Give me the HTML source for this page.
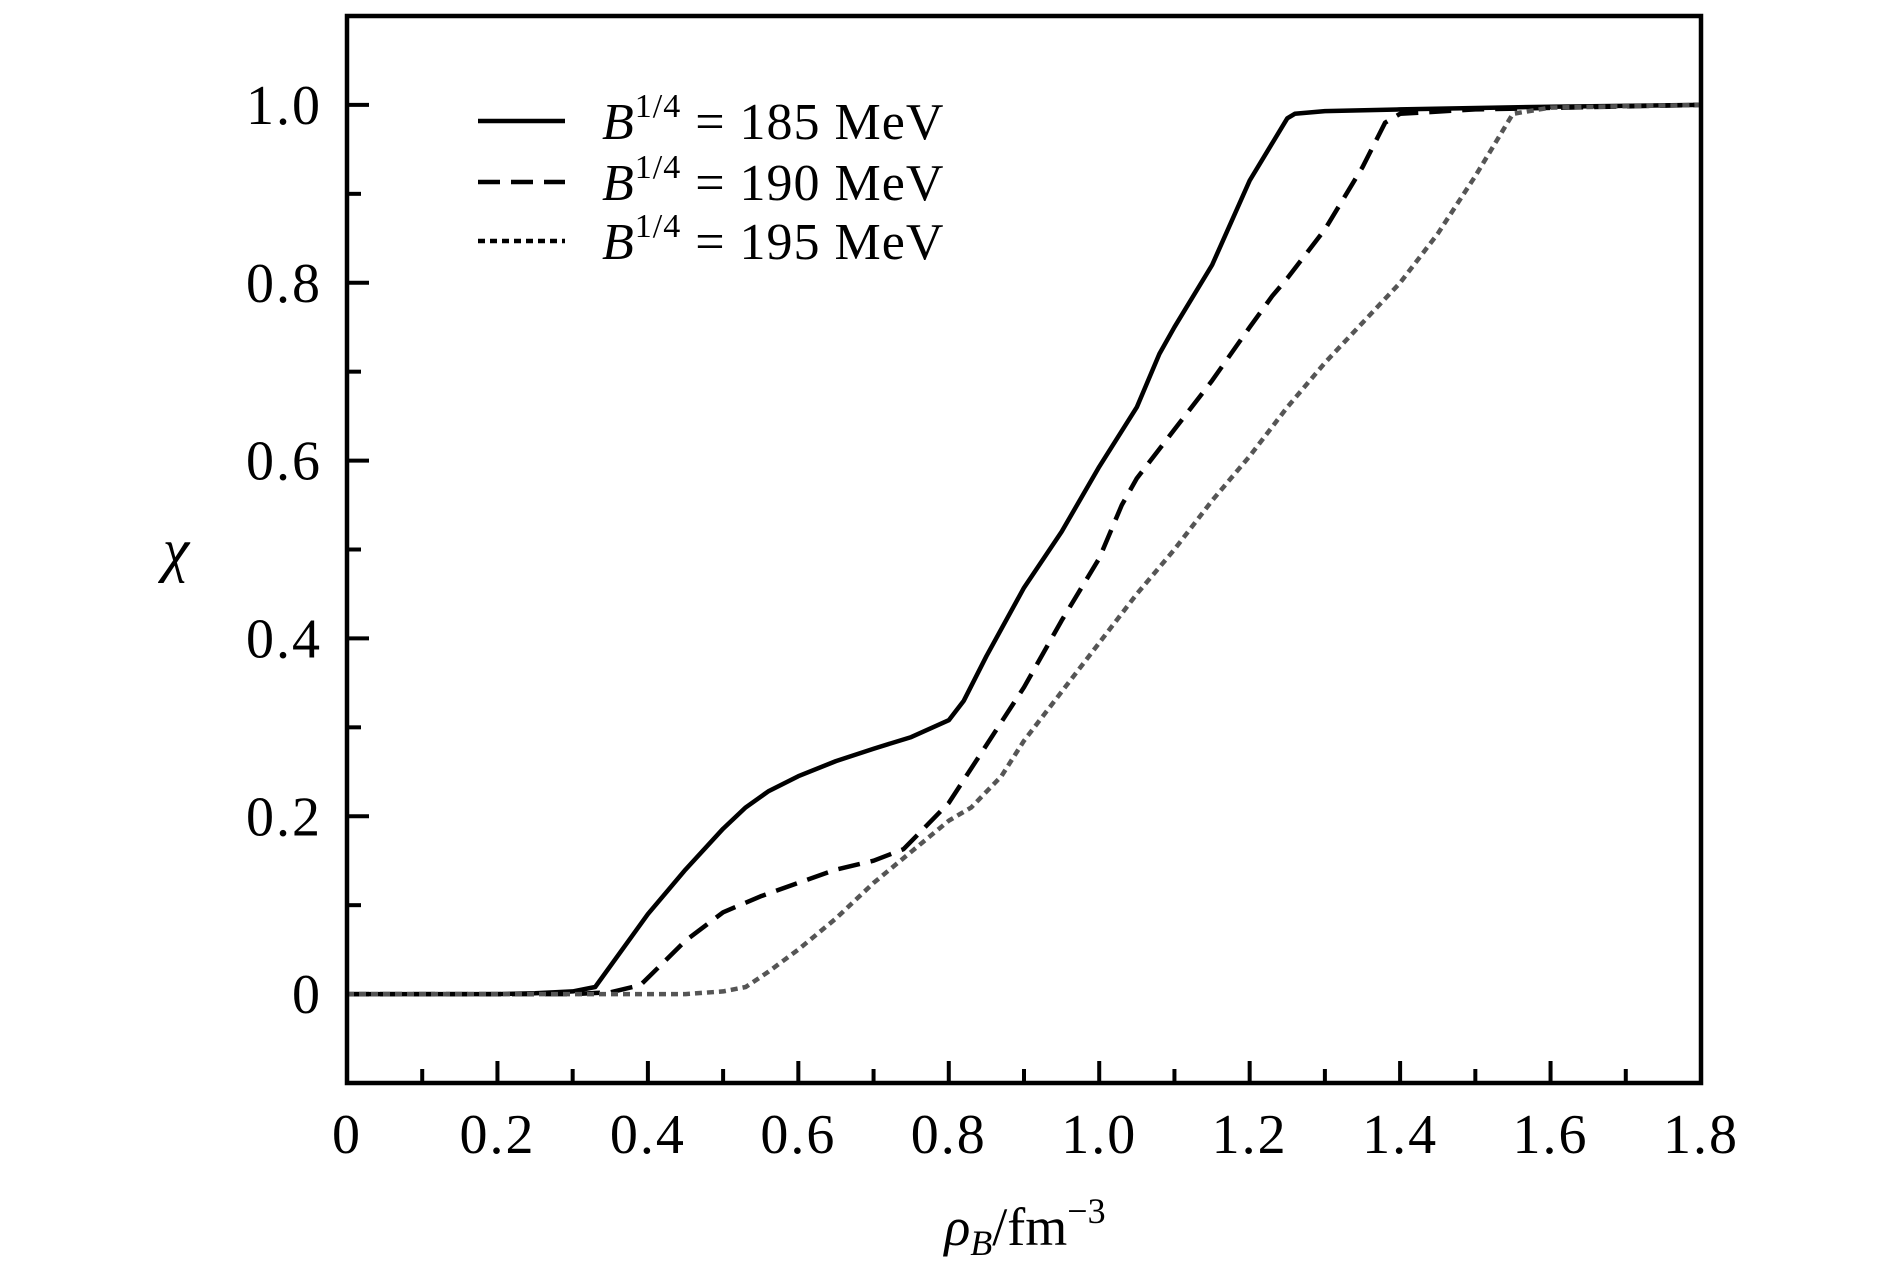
<!DOCTYPE html>
<html><head><meta charset="utf-8"><style>
html,body{margin:0;padding:0;background:#fff;}
svg{display:block;font-family:"Liberation Serif",serif;}
</style></head><body>
<svg id="chart" width="1890" height="1276" viewBox="0 0 1890 1276" xmlns="http://www.w3.org/2000/svg">
<g id="plot"></g>
</svg>
<script>
const xTickValues = [0, 0.2, 0.4, 0.6, 0.8, 1.0, 1.2, 1.4, 1.6, 1.8];
const xTickLabels = ["0", "0.2", "0.4", "0.6", "0.8", "1.0", "1.2", "1.4", "1.6", "1.8"];
const yTickValues = [0, 0.2, 0.4, 0.6, 0.8, 1.0];
const yTickLabels = ["0", "0.2", "0.4", "0.6", "0.8", "1.0"];
const seriesNames = ["B185", "B190", "B195"];
const x185 = [0, 0.1, 0.2, 0.25, 0.3, 0.33, 0.4, 0.45, 0.5, 0.53, 0.56, 0.6, 0.65, 0.7, 0.75, 0.8, 0.82, 0.85, 0.9, 0.95, 1.0, 1.05, 1.08, 1.1, 1.15, 1.2, 1.25, 1.26, 1.3, 1.4, 1.6, 1.8];
const y185 = [0, 0, 0, 0.001, 0.003, 0.008, 0.09, 0.14, 0.186, 0.21, 0.228, 0.245, 0.262, 0.276, 0.289, 0.308, 0.33, 0.38, 0.457, 0.52, 0.593, 0.66, 0.72, 0.75, 0.82, 0.915, 0.985, 0.99, 0.993, 0.995, 0.998, 1.0];
const x190 = [0, 0.1, 0.2, 0.3, 0.35, 0.39, 0.45, 0.5, 0.55, 0.6, 0.65, 0.7, 0.74, 0.8, 0.85, 0.9, 0.95, 1.0, 1.03, 1.05, 1.1, 1.15, 1.2, 1.23, 1.25, 1.3, 1.35, 1.38, 1.4, 1.5, 1.8];
const y190 = [0, 0, 0, 0, 0.002, 0.01, 0.06, 0.092, 0.11, 0.125, 0.14, 0.15, 0.163, 0.215, 0.28, 0.345, 0.42, 0.49, 0.55, 0.58, 0.635, 0.69, 0.75, 0.785, 0.805, 0.86, 0.93, 0.98, 0.99, 0.995, 1.0];
const x195 = [0, 0.1, 0.2, 0.3, 0.45, 0.5, 0.53, 0.56, 0.6, 0.65, 0.7, 0.75, 0.8, 0.83, 0.87, 0.9, 0.95, 1.0, 1.05, 1.1, 1.15, 1.2, 1.25, 1.3, 1.35, 1.4, 1.45, 1.5, 1.55, 1.6, 1.8];
const y195 = [0, 0, 0, 0, 0, 0.003, 0.008, 0.025, 0.05, 0.085, 0.125, 0.16, 0.195, 0.21, 0.245, 0.285, 0.34, 0.395, 0.45, 0.5, 0.555, 0.605, 0.66, 0.71, 0.755, 0.8, 0.855, 0.92, 0.99, 0.997, 1.0];
const legendLabels = ["185", "190", "195"];

const NS = "http://www.w3.org/2000/svg";
const L = 347, R = 1701, T = 16, B = 1083;
const X0 = 0, X1 = 1.8, Y0 = -0.1, Y1 = 1.1;
function sx(v){ return L + (v - X0) / (X1 - X0) * (R - L); }
function sy(v){ return B - (v - Y0) / (Y1 - Y0) * (B - T); }
const g = document.getElementById('plot');
function mk(tag, attrs){ const e = document.createElementNS(NS, tag); for (const k in attrs) e.setAttribute(k, attrs[k]); g.appendChild(e); return e; }

for (let i = 1; i < 18; i++) {
  const v = i / 10, x = sx(v);
  const major = i % 2 === 0;
  const t = mk('line', {x1:x, y1:B, x2:x, y2:B - (major ? 22 : 14), stroke:'#000', 'stroke-width':4});
  
  
}
for (let i = 0; i <= 10; i++) {
  const v = i / 10, y = sy(v);
  const major = i % 2 === 0;
  const t = mk('line', {x1:L, y1:y, x2:L + (major ? 22 : 14), y2:y, stroke:'#000', 'stroke-width':4});
  
  
}
xTickValues.forEach((v, i) => {
  const t = mk('text', {x:sx(v), y:1153, 'font-size':56, 'text-anchor':'middle', fill:'#000', 'letter-spacing':2});
  t.textContent = xTickLabels[i];
  
  
});
yTickValues.forEach((v, i) => {
  const t = mk('text', {x:322, y:sy(v) + 19, 'font-size':56, 'text-anchor':'end', fill:'#000', 'letter-spacing':2});
  t.textContent = yTickLabels[i];
  
  
});

const styles = [
  {stroke:'#000', dash:'none'},
  {stroke:'#000', dash:'22 11'},
  {stroke:'#555', dash:'7 5'}
];
const xs = [x185, x190, x195], ys = [y185, y190, y195];
xs.forEach((xa, s) => {
  const d = xa.map((v, i) => (i ? 'L' : 'M') + sx(v).toFixed(1) + ',' + sy(ys[s][i]).toFixed(1)).join(' ');
  const p = mk('path', {d:d, fill:'none', stroke:styles[s].stroke, 'stroke-width':4.5, 'stroke-dasharray':styles[s].dash, 'stroke-linejoin':'round'});
  
  
});

const fr = mk('rect', {x:L, y:T, width:R - L, height:B - T, fill:'none', stroke:'#000', 'stroke-width':4.5});



const legY = [121, 182, 241];
const legDash = ['none', '22 11', '7 5'];
legendLabels.forEach((lab, i) => {
  const ln = mk('line', {x1:478, y1:legY[i], x2:565, y2:legY[i], stroke:'#000', 'stroke-width':4.5, 'stroke-dasharray':legDash[i]});
  
  
  const t = mk('text', {x:602, y:legY[i] + 18, 'font-size':52, fill:'#000', 'letter-spacing':1});
  t.innerHTML = '<tspan font-style="italic">B</tspan><tspan font-size="34" dy="-22">1/4</tspan><tspan dy="22"> = ' + lab + ' MeV</tspan>';
  
  
});

const xt = mk('text', {x:1025, y:1245, 'font-size':54, 'text-anchor':'middle', fill:'#000'});
xt.innerHTML = '<tspan font-style="italic">ρ</tspan><tspan font-style="italic" font-size="36" dy="10">B</tspan><tspan dy="-10">/fm</tspan><tspan font-size="36" dy="-22">−3</tspan>';


const yt = mk('text', {x:176, y:570, 'font-size':60, 'text-anchor':'middle', 'font-style':'italic', fill:'#000'});
yt.textContent = 'χ';


</script>
</body></html>
